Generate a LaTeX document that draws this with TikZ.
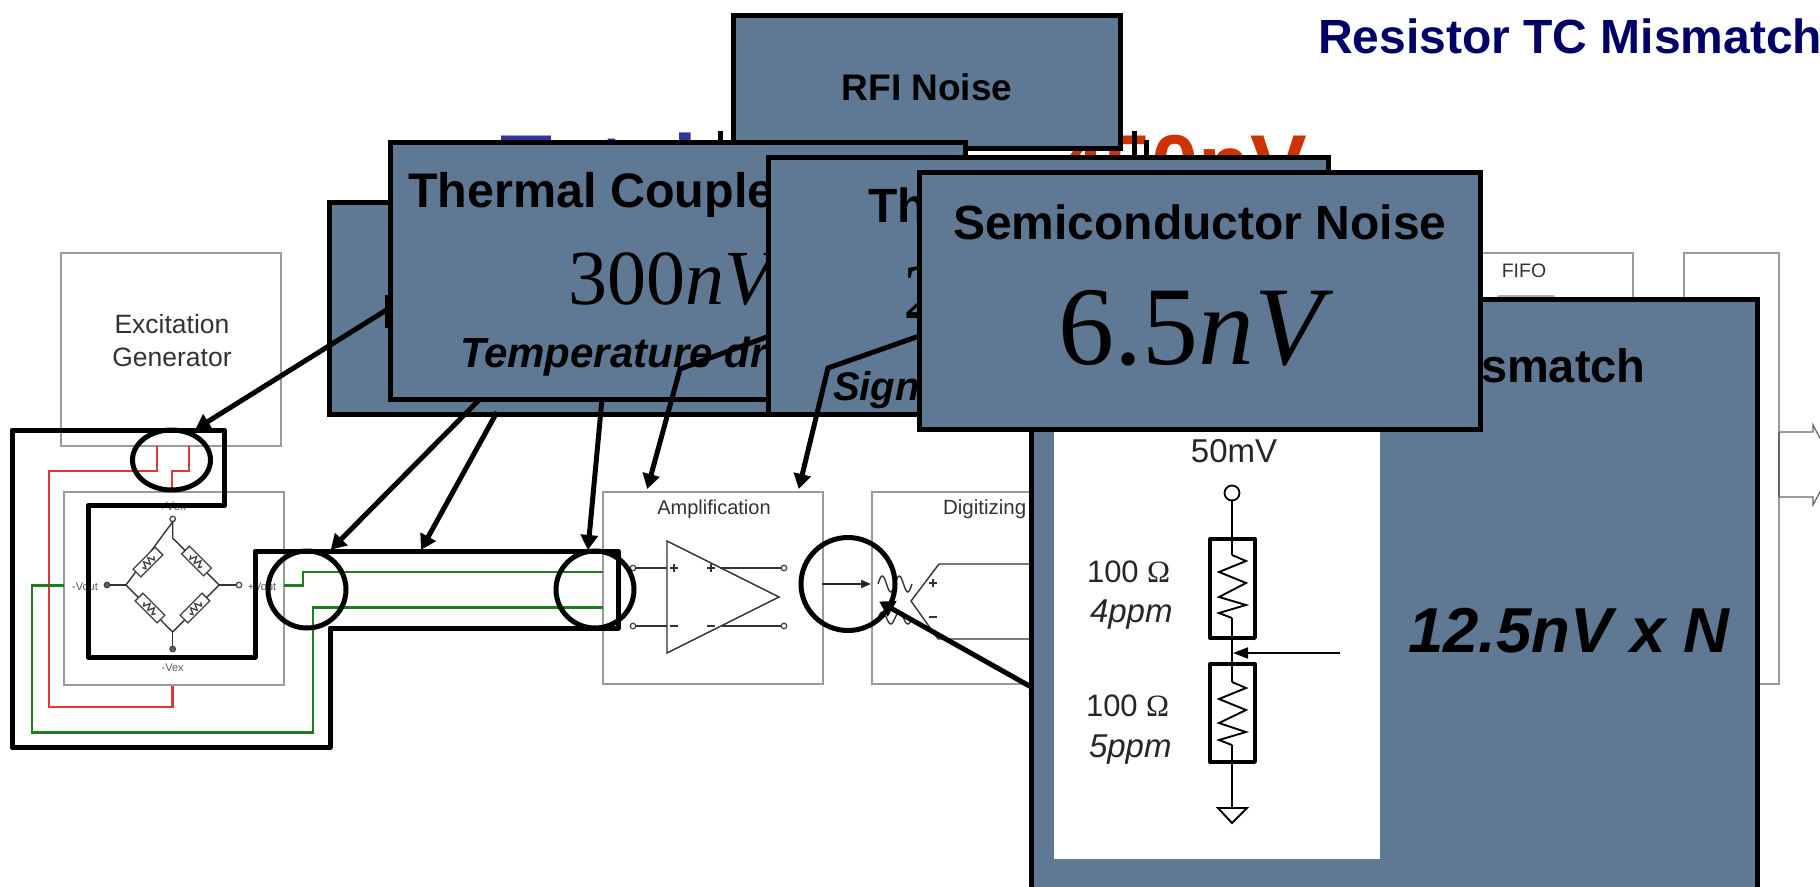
\documentclass[tikz,border=0pt]{standalone}
\usepackage{fontspec}
\setmainfont{Liberation Sans}
\newfontfamily\timesf{Liberation Serif}
\usetikzlibrary{arrows.meta,shapes.geometric}
\newcommand\fs[1]{\fontsize{#1}{#1}\selectfont}
\definecolor{panelblue}{HTML}{5F7893}
\definecolor{boxgrey}{HTML}{9A9A9A}
\definecolor{wirered}{HTML}{E0383A}
\definecolor{wiregreen}{HTML}{1E7D1E}
\definecolor{titleblue}{HTML}{333399}
\definecolor{titlered}{HTML}{CC3300}
\definecolor{navy}{HTML}{000066}
\tikzset{
  panel/.style={draw=black,line width=5pt,fill=panelblue,rectangle,anchor=north west,inner sep=0pt,outer sep=0pt,line join=miter},
  txt/.style={inner sep=0pt,outer sep=0pt,anchor=base west},
  ctxt/.style={inner sep=0pt,outer sep=0pt,anchor=base},
  greybox/.style={draw=boxgrey,line width=1.6pt,fill=white,rectangle,anchor=north west,inner sep=0pt,outer sep=0pt},
  thick line/.style={line width=5pt,line join=round},
  ring/.style={draw=black,line width=5pt,ellipse,inner sep=0pt,outer sep=0pt},
  pointer/.style={line width=5pt,line join=miter,-{Triangle[length=15pt,width=17pt]},shorten >=-1pt},
  thin/.style={draw=black!80,line width=1.4pt},
  term/.style={draw=black!75,line width=1.2pt,fill=white,circle,minimum size=5.5pt,inner sep=0pt,outer sep=0pt},
  wirer/.style={draw=wirered,line width=2.3pt,line join=miter},
  wireg/.style={draw=wiregreen,line width=2.3pt,line join=miter},
  blk/.style={draw=black,line width=1.9pt},
  tick/.style={draw=black,line width=5pt},
}
\newcommand\bres[3]{\begin{scope}[shift={(#1,#2)},rotate=#3]
  \draw[line width=1.3pt,draw=black!75,fill=white] (-15.5,-5.5) rectangle (15.5,5.5);
  \draw[line width=1.3pt,draw=black!75] (-8,0)--(-6,3.2)--(-3,-3.2)--(0,3.2)--(3,-3.2)--(6,3.2)--(8,0);
\end{scope}}
\begin{document}
\begin{tikzpicture}[x=1pt,y=-1pt]
\useasboundingbox (0,0) rectangle (1820,886);
\fill[white] (0,0) rectangle (1820,886);

% slide titles behind the panels
\node[txt,text=titleblue] (ttotal) at (500,194) {\fs{85}\bfseries Total};
\node[txt,text=titlered] (tval) at (1057,194) {\fs{85}\bfseries 450nV};
\node[txt,text=navy] (trtc) at (1318,53) {\fs{48}\bfseries Resistor TC Mismatch};
\draw[tick] (720,131) -- (720,145);
\draw[tick] (1134,131) -- (1134,156);
\draw[tick] (1146,140) -- (1146,156);

% block diagram boxes
\node[greybox,minimum width=220pt,minimum height=193pt] (bexc) at (61,253) {};
\node[ctxt] (texc1) at (172,333) {\fs{26.5}\color{black!80}Excitation};
\node[ctxt] (texc2) at (172,366) {\fs{26.5}\color{black!80}Generator};
\node[greybox,minimum width=220pt,minimum height=193pt] (bbr) at (64,492) {};
\node[greybox,minimum width=220pt,minimum height=192pt] (bamp) at (603,492) {};
\node[ctxt] (tamp) at (714,514) {\fs{20}\color{black!80}Amplification};
\node[greybox,minimum width=220pt,minimum height=192pt] (bdig) at (872,492) {};
\node[txt] (tdig) at (943,514) {\fs{20.5}\color{black!80}Digitizing};
\node[greybox,minimum width=220pt,minimum height=192pt] (bfifo) at (1413,253) {};
\node[ctxt] (tfifo) at (1524,277) {\fs{19.5}\color{black!80}FIFO};
\fill[black!30,rounded corners=2pt] (1497,295) rectangle (1555,310);
\node[greybox,minimum width=95pt,minimum height=431pt] (blast) at (1684,253) {};

% output arrows
\coordinate (o1) at (1779,432);
\coordinate (o2) at (1779,497);
\draw[draw=black!60,line width=1.2pt] (o1) -- (o2);
\draw[draw=black!60,line width=1.2pt] (o1) -- (1813,432) -- (1813,425) -- (1821,440);
\draw[draw=black!60,line width=1.2pt] (o2) -- (1813,497) -- (1813,505) -- (1821,490);

% bridge
\node[term] (bt) at (172.7,519) {};
\node[term,fill=black!60] (bb) at (172.7,649) {};
\node[term,fill=black!60] (bl) at (107,585) {};
\node[term] (br) at (239,585) {};
\coordinate (dt) at (172.7,538);
\coordinate (dr) at (219,585);
\coordinate (db) at (172.7,632);
\coordinate (dl) at (126,585);
\draw[thin] (bt) -- (dt) -- (dr) -- (db) -- (dl) -- cycle;
\draw[thin] (bb) -- (db);
\draw[thin] (bl) -- (dl);
\draw[thin] (br) -- (dr);
\bres{148}{562}{45}
\bres{196.5}{561}{-45}
\bres{150}{608}{-45}
\bres{195}{608}{45}
\node[ctxt] (tvp) at (172.7,510) {\fs{12}\color{black!65}+Vex};
\node[ctxt] (tvm) at (172.7,671) {\fs{11}\color{black!65}-Vex};
\node[ctxt] (tvom) at (85,590) {\fs{11}\color{black!65}-Vout};
\node[ctxt] (tvop) at (262,590) {\fs{11}\color{black!65}+Vout};

% amplifier
\coordinate (a1) at (667,541);
\coordinate (a2) at (779,597);
\coordinate (a3) at (667,653);
\draw[thin] (a1) -- (a2) -- (a3) -- cycle;
\node[term] (i1) at (633,568) {};
\node[term] (i2) at (633,626) {};
\node[term] (u1) at (784,568) {};
\node[term] (u2) at (784,626) {};
\coordinate (i1e) at (667,568);
\coordinate (i2e) at (667,626);
\coordinate (u1e) at (720,568);
\coordinate (u2e) at (722,626);
\draw[thin] (i1) -- (i1e);
\draw[thin] (i2) -- (i2e);
\draw[thin] (u1e) -- (u1);
\draw[thin] (u2e) -- (u2);
\draw[thin] (670,568) -- (678,568) (674,564) -- (674,572);
\draw[thin] (707,568) -- (715,568) (711,564) -- (711,572);
\draw[thin] (670,626) -- (678,626);
\draw[thin] (707,626) -- (715,626);

% digitizer
\coordinate (s1) at (822,584);
\coordinate (s2) at (871,584);
\draw[black!85,line width=1.5pt,-{Triangle[length=10pt,width=8pt]}] (s1) -- (s2);
\draw[thin] plot[domain=0:2,samples=40] ({878+\x*17},{584-8*sin(\x*360)});
\draw[thin] plot[domain=0:2,samples=40] ({878+\x*17},{618-6*sin(\x*360)});
\draw[thin] (1040,564) -- (939,564) -- (911,601) -- (938,639) -- (1040,639);
\draw[thin] (929,583) -- (937,583) (933,579) -- (933,587);
\draw[thin] (929,617) -- (937,617);

% wires
\draw[wirer] (157,446) -- (157,471) -- (49,471) -- (49,707) -- (172.5,707) -- (172.5,685.5);
\draw[wirer] (189,446) -- (189,471) -- (172,471) -- (172,492);
\draw[wireg] (64,585.5) -- (32,585.5) -- (32,732.5) -- (313,732.5) -- (313,607.5) -- (603,607.5);
\draw[wireg] (284,585.5) -- (303,585.5) -- (303,572) -- (603,572);

% thick outline and rings
\draw[thick line] (12,430) -- (224.5,430) -- (224.5,505.5) -- (88,505.5) -- (88,657) -- (255,657) -- (255,551) -- (618,551) -- (618,628) -- (330,628) -- (330,747.5) -- (12,747.5) -- cycle;
\node[ring,minimum width=78pt,minimum height=60pt] (r1) at (171.5,460) {};
\node[ring,minimum width=78pt,minimum height=77pt] (r2) at (307,589.5) {};
\node[ring,minimum width=78pt,minimum height=77pt] (r3) at (595,589.5) {};
\node[ring,minimum width=94pt,minimum height=93pt] (r4) at (848,584) {};

% RFI panel
\node[panel,minimum width=387pt,minimum height=133pt] (prfi) at (733,15) {};
\node[ctxt] (trfi) at (927,100) {\fs{37}\bfseries RFI Noise};

% hidden panel + its arrows
\node[panel,minimum width=445pt,minimum height=212pt] (phid) at (329,202) {};
\coordinate (pa1) at (388,309);
\coordinate (ta1) at (196,429);
\draw[pointer] (pa1) -- (ta1);
\coordinate (pa2) at (497,412);
\coordinate (ta2) at (421.5,549);
\draw[pointer] (pa2) -- (ta2);
\coordinate (st1) at (387,295);
\coordinate (st2) at (387,328);
\draw[tick] (st1) -- (st2);

% thermal couple panel
\coordinate (pa3) at (480,399);
\coordinate (ta3) at (331.5,549);
\coordinate (pa4) at (602,399);
\coordinate (ta4) at (588,549);
\draw[pointer] (pa3) -- (ta3);
\draw[pointer] (pa4) -- (ta4);
\node[panel,minimum width=575pt,minimum height=257pt] (pth) at (390,142) {};
\node[txt] (tth) at (408,207) {\fs{48.5}\bfseries Thermal Couple};
\node[txt] (t300) at (568,304) {\fs{78}\timesf 300\textit{nV}};
\node[txt] (ttmp) at (460,367) {\fs{42}\bfseries\itshape Temperature dr};

% elbow arrow 1
\coordinate (e1a) at (775,334);
\coordinate (e1b) at (680,369);
\coordinate (e1c) at (647.5,488);
\draw[pointer] (e1a) -- (e1b) -- (e1c);

% middle panel
\node[panel,minimum width=560pt,minimum height=257pt] (pmid) at (768,157) {};
\node[txt] (tmid) at (868,222) {\fs{48}\bfseries Th};
\node[txt] (t2) at (903,318) {\fs{78}\timesf 2};
\node[txt] (tsig) at (833,400) {\fs{40}\bfseries\itshape Signa};

% elbow arrow 2
\coordinate (e2a) at (925,334);
\coordinate (e2b) at (828,368);
\coordinate (e2c) at (799,488);
\draw[pointer] (e2a) -- (e2b) -- (e2c);

% resistor panel
\coordinate (pa5) at (1033,688);
\coordinate (ta5) at (880,602);
\draw[pointer] (pa5) -- (ta5);
\node[panel,minimum width=726pt,minimum height=620pt] (pres) at (1031,299) {};
\node[txt] (tsm) at (1481,382) {\fs{47}\bfseries smatch};
\node[txt] (t125) at (1408,652) {\fs{63.5}\bfseries\itshape 12.5nV x N};
\fill[white] (1054,420) rectangle (1380,859);
\node[ctxt] (t50) at (1234,462) {\fs{33}\color{black!85}50mV};
\node[txt] (t100a) at (1087,582) {\fs{31}\color{black!85}100};
\node[txt] (tom1) at (1147,582) {\fs{31}\timesf\color{black!85}Ω};
\node[txt] (t4) at (1090,622) {\fs{33}\itshape\color{black!85}4ppm};
\node[txt] (t100b) at (1086,716) {\fs{31}\color{black!85}100};
\node[txt] (tom2) at (1146,716) {\fs{31}\timesf\color{black!85}Ω};
\node[txt] (t5) at (1089,757) {\fs{33}\itshape\color{black!85}5ppm};
\node[draw=black,line width=1.8pt,circle,minimum size=15pt,inner sep=0pt,outer sep=0pt] (vtop) at (1232,493) {};
\coordinate (z1) at (1232,555);
\coordinate (z2) at (1232,618);
\coordinate (z3) at (1232,682);
\coordinate (z4) at (1232,745);
\coordinate (gnd) at (1232,808);
\draw[blk] (vtop) -- (z1);
\draw[blk] (z2) -- (z3);
\draw[blk] (z4) -- (gnd);
\draw[draw=black,line width=3.4pt,line join=round] (1210,539) rectangle (1255,638);
\draw[draw=black,line width=3.4pt,line join=round] (1210,664) rectangle (1255,762);
\draw[blk] (z1) -- (1246,561) -- (1219,572) -- (1246,583) -- (1219,597) -- (1246,605) -- (1219,613) -- (z2);
\draw[blk] (z3) -- (1246,688) -- (1219,699) -- (1246,710) -- (1219,723) -- (1246,732) -- (1219,740) -- (z4);
\draw[blk,line join=miter] (1218,808) -- (1247,808) -- (1232,823) -- cycle;
\coordinate (pin1) at (1340,653);
\coordinate (pin2) at (1233,653);
\draw[black,line width=1.9pt,-{Triangle[length=15pt,width=11pt]}] (pin1) -- (pin2);

% semiconductor panel
\node[panel,minimum width=560.5pt,minimum height=257pt] (psemi) at (919.5,172) {};
\node[txt] (tsemi) at (953,239) {\fs{48}\bfseries Semiconductor Noise};
\node[txt] (t65) at (1058,364) {\fs{112}\timesf 6.5\textit{nV}};
\end{tikzpicture}
\end{document}
